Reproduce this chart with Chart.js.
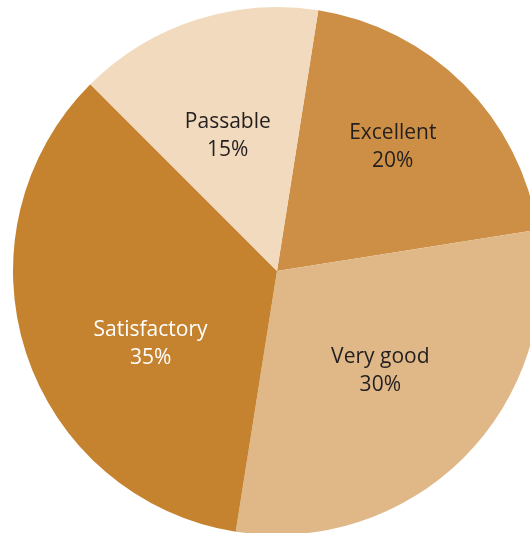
<!DOCTYPE html>
<html>
<head>
<meta charset="utf-8">
<script src="https://cdn.jsdelivr.net/npm/chart.js@4"></script>
<style>
    html, body { margin: 0; padding: 0; background: #fff; overflow: hidden; }
    #wrap { position: absolute; left: 0; top: 0; width: 560px; height: 550px; }
</style>
</head>
<body>
<div id="wrap"><canvas id="pasta"></canvas></div>
<script>
// veriler
const kategoriler = ['Excellent', 'Very good', 'Satisfactory', 'Passable'];
const yuzdeler = [20, 30, 35, 15];
const renkler = ['#CD8F45', '#E0B888', '#C5822F', '#F1DABD'];
const yaziRenkleri = ['#231F20', '#231F20', '#FFFFFF', '#231F20'];

// etiket yerleşimi (yarıçap oranı, açı kaydırma derece)
const etiketUzaklik = [0.643, 0.544, 0.553, 0.545];
const etiketKaydir = [-2, -1, -12, -2];

const etiketPlugin = {
    id: 'etiketler',
    afterDatasetsDraw(chart) {
        const ctx = chart.ctx;
        const meta = chart.getDatasetMeta(0);
        ctx.save();
        ctx.font = '21px "Open Sans", sans-serif';
        ctx.textAlign = 'center';
        ctx.textBaseline = 'middle';
        meta.data.forEach((arc, i) => {
            const orta = (arc.startAngle + arc.endAngle) / 2 + etiketKaydir[i] * Math.PI / 180;
            const r = arc.outerRadius * etiketUzaklik[i];
            const x = arc.x + Math.cos(orta) * r;
            const y = arc.y + Math.sin(orta) * r;
            ctx.fillStyle = yaziRenkleri[i];
            ctx.fillText(kategoriler[i], x, y - 14);
            ctx.fillText(yuzdeler[i] + '%', x, y + 14);
        });
        ctx.restore();
    }
};

new Chart(document.getElementById('pasta'), {
    type: 'pie',
    data: {
        labels: kategoriler,
        datasets: [{
            data: yuzdeler,
            backgroundColor: renkler,
            borderWidth: 0,
            hoverOffset: 0
        }]
    },
    options: {
        responsive: true,
        maintainAspectRatio: false,
        animation: false,
        rotation: 9,
        layout: { padding: { left: 13, top: 7, right: 19, bottom: 15 } },
        plugins: {
            legend: { display: false },
            tooltip: { enabled: false }
        }
    },
    plugins: [etiketPlugin]
});
</script>
</body>
</html>
